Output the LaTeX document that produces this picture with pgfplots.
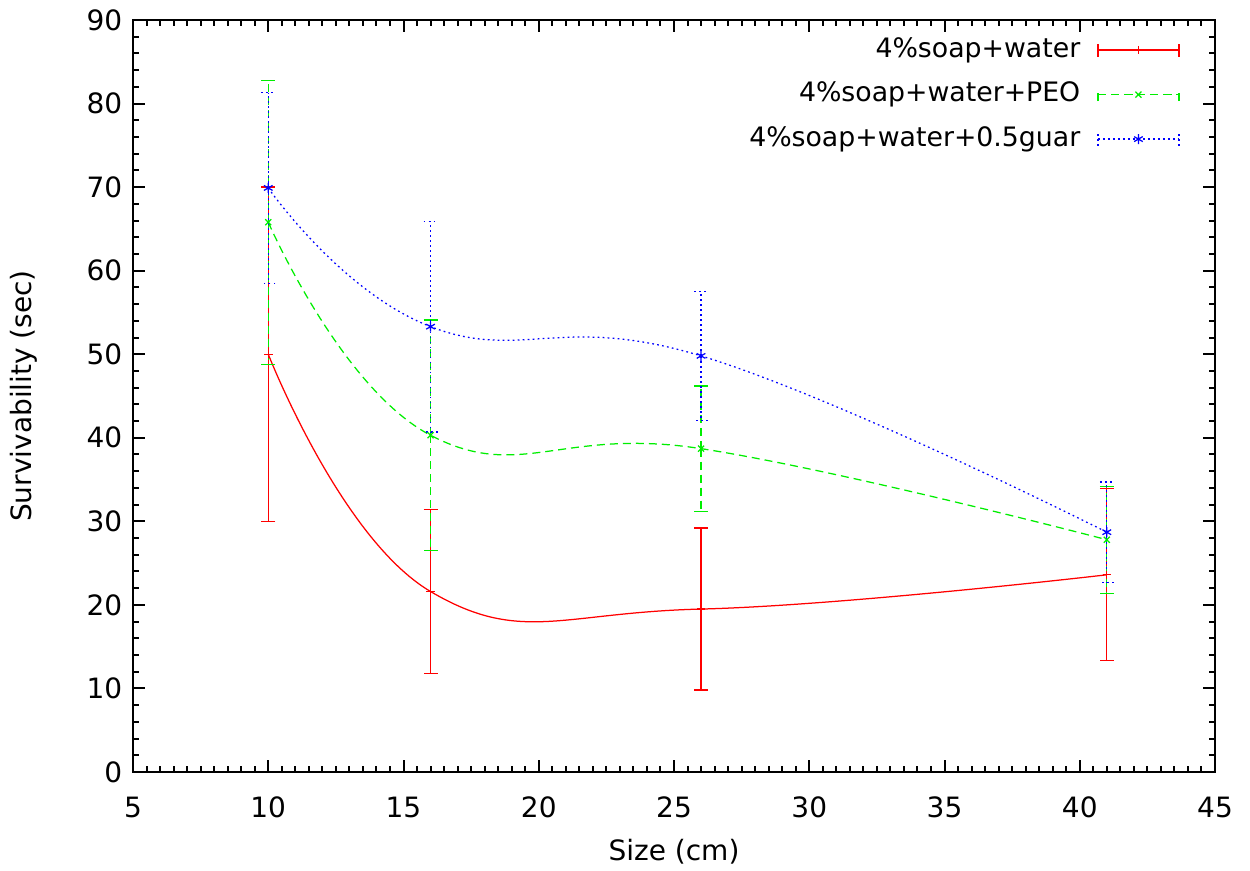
\documentclass[border=0pt]{standalone}
\usepackage{fontspec}
\setmainfont{DejaVu Sans}
\usepackage{pgfplots}
\pgfplotsset{compat=1.18}
\usetikzlibrary{plotmarks}
\definecolor{gpred}{RGB}{255,0,0}
\definecolor{gpgreen}{RGB}{0,238,0}
\definecolor{gpblue}{RGB}{0,0,255}

\pgfplotsset{
  gpkey/.style={legend image code/.code={
    \draw[mark repeat=2,mark phase=2,##1] plot coordinates {(0bp,0bp)(16.2bp,0bp)(32.4bp,0bp)};
    \draw[##1,mark=none] (0bp,-2.6bp) -- (0bp,2.6bp) (32.4bp,-2.6bp) -- (32.4bp,2.6bp);
  }},
}

\begin{document}
\begin{tikzpicture}
\begin{axis}[
  name=ax,
  scale only axis,
  width=432.8bp, height=300.8bp,
  xmin=5, xmax=45, ymin=0, ymax=90,
  xtick={5,10,...,45}, ytick={0,10,...,90},
  minor x tick num=9, minor y tick num=4,
  major tick length=4.8bp, minor tick length=2.4bp,
  every tick/.style={black, line width=0.8bp},
  axis line style={line width=0.8bp},
  font=\fontsize{11.2bp}{13bp}\selectfont,
  /pgf/number format/assume math mode=true,
  xticklabel style={yshift=-6.4bp},
  yticklabel style={xshift=-0.8bp},
  xlabel={Size (cm)}, ylabel={Survivability (sec)},
  xlabel style={yshift=-1.6bp},
  ylabel style={yshift=12.8bp},
  legend plot pos=right,
  legend cell align=right,
  legend style={draw=none, fill=none, at={(1,1)}, anchor=north east,
    xshift=-11bp, yshift=-4.6bp, row sep=7.3bp, column sep=6.8bp,
    nodes={inner sep=0pt, text height=8.2bp, text depth=2.3bp},
    font=\fontsize{10.7bp}{13bp}\selectfont},
]
% 4%soap+water
\addplot[gpred, line width=0.5bp, smooth, tension=0.75, mark=+, mark size=1.7bp,
  gpkey,
  error bars/.cd, y dir=both, y explicit,
  error bar style={line width=0.5bp, solid},
  error mark options={gpred, rotate=90, mark size=2.8bp, line width=0.5bp, solid}]
  coordinates {(10,50) +- (0,20) (16,21.6) +- (0,9.8) (26,19.5) +- (0,9.7) (41,23.6) +- (0,10.3)};
\addlegendentry{4\%soap+water}

% 4%soap+water+PEO
\addplot[gpgreen, line width=0.5bp, smooth, tension=0.75, dash pattern=on 3.2bp off 2bp,
  mark=x, mark size=1.7bp, mark options={solid},
  gpkey,
  error bars/.cd, y dir=both, y explicit,
  error bar style={line width=0.5bp, dash pattern=on 3.2bp off 2bp},
  error mark options={gpgreen, rotate=90, mark size=2.8bp, line width=0.5bp, solid}]
  coordinates {(10,65.8) +- (0,17) (16,40.3) +- (0,13.8) (26,38.7) +- (0,7.5) (41,27.8) +- (0,6.4)};
\addlegendentry{4\%soap+water+PEO}

% 4%soap+water+0.5guar
\addplot[gpblue, line width=0.5bp, smooth, tension=0.75, dash pattern=on 0.7bp off 1.3bp,
  mark=asterisk, mark size=2bp, mark options={solid},
  gpkey,
  error bars/.cd, y dir=both, y explicit,
  error bar style={line width=0.5bp, dash pattern=on 0.7bp off 1.3bp},
  error mark options={gpblue, rotate=90, mark size=2.8bp, line width=0.5bp, dash pattern=on 0.7bp off 1.3bp}]
  coordinates {(10,69.9) +- (0,11.4) (16,53.3) +- (0,12.6) (26,49.8) +- (0,7.7) (41,28.7) +- (0,6)};
\addlegendentry{4\%soap+water+0.5guar}
\end{axis}
\pgfresetboundingbox
\path ([shift={(-53.2bp,-39.6bp)}]ax.south west) rectangle ([shift={(14bp,8bp)}]ax.north east);
\end{tikzpicture}
\end{document}
